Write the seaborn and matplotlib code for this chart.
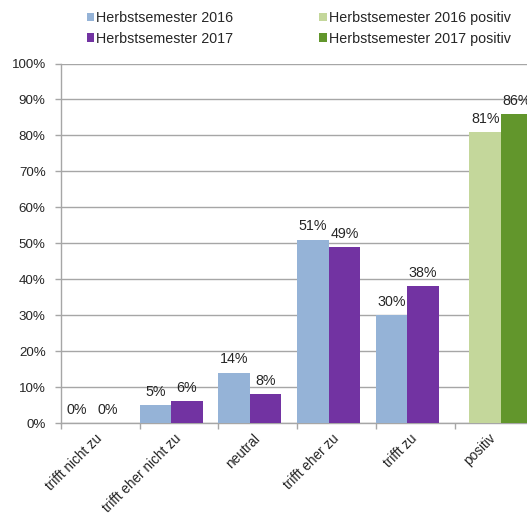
import numpy as np
import pandas as pd
import matplotlib
matplotlib.use("Agg")
import matplotlib.pyplot as plt
from matplotlib.patches import Patch
from matplotlib.ticker import FuncFormatter
import seaborn as sns

# Survey answer categories and shares (percent)
categories = ["trifft nicht zu", "trifft eher nicht zu", "neutral",
              "trifft eher zu", "trifft zu", "positiv"]
answer_categories = categories[:5]
hs2016 = [0, 5, 14, 51, 30]
hs2017 = [0, 6, 8, 49, 38]
hs2016_positiv = [81]
hs2017_positiv = [86]

series = ["Herbstsemester 2016", "Herbstsemester 2017",
          "Herbstsemester 2016 positiv", "Herbstsemester 2017 positiv"]
colors = ["#95B3D7", "#7233A2", "#C4D79B", "#62962C"]
y_ticks = list(range(0, 101, 10))

answers = pd.DataFrame({
    "Kategorie": answer_categories * 2,
    "Anteil": hs2016 + hs2017,
    "Semester": [series[0]] * len(hs2016) + [series[1]] * len(hs2017),
})
positive = pd.DataFrame({
    "Kategorie": ["positiv", "positiv"],
    "Anteil": hs2016_positiv + hs2017_positiv,
    "Semester": series[2:],
})

sns.set_theme(style="white")
plt.rcParams["font.family"] = ["Liberation Sans", "DejaVu Sans"]
TEXT = "#262626"
GRID = "#a6a6a6"

W, H = 527, 518
fig = plt.figure(figsize=(W / 100, H / 100), dpi=100)
cat_px = 78.7
x0, y0, y100 = 61, 423, 63.5
ax = fig.add_axes([x0 / W, (H - y0) / H, 6 * cat_px / W, (y0 - y100) / H])

bar_kw = dict(width=0.8, saturation=1, legend=False, ax=ax, zorder=3,
              linewidth=0, edgecolor="none")
sns.barplot(data=answers, x="Kategorie", y="Anteil", hue="Semester",
            order=categories, hue_order=series[:2], palette=colors[:2],
            **bar_kw)
sns.barplot(data=positive, x="Kategorie", y="Anteil", hue="Semester",
            order=categories, hue_order=series[2:], palette=colors[2:],
            **bar_kw)

# the "positiv" group sits a little further right inside its slot
POS_SHIFT = 0.19
for cont in ax.containers[2:]:
    for p in cont:
        p.set_x(p.get_x() + POS_SHIFT)

for cont in ax.containers:
    vals = [p.get_height() for p in cont]
    ax.bar_label(cont, labels=[f"{v:.0f}%" for v in vals], padding=4.5,
                 fontsize=10.3, color=TEXT)

ax.set_xlim(-0.4, 5.6)
ax.set_ylim(0, 100)
ax.set_yticks(y_ticks)
ax.yaxis.set_major_formatter(FuncFormatter(lambda v, _: f"{v:.0f}%"))
ax.grid(axis="y", color=GRID, linewidth=1, zorder=0)
ax.set_axisbelow(True)

# category boundaries as major ticks, names at the centres
bounds = np.arange(len(categories) + 1) - 0.4
centres = np.arange(len(categories)) + 0.1
ax.set_xticks(bounds)
ax.set_xticklabels([])
ax.set_xticks(centres, minor=True)
ax.set_xticklabels(categories, minor=True, rotation=45, ha="right",
                   va="center", rotation_mode="anchor", fontsize=9.8,
                   color=TEXT)
ax.tick_params(axis="x", which="major", length=4, width=1, color=GRID,
               direction="out", bottom=True)
ax.tick_params(axis="x", which="minor", length=0, pad=9.5)
ax.tick_params(axis="y", length=4, width=1, color=GRID, direction="out",
               left=True, labelsize=9.6, labelcolor=TEXT, pad=7)
ax.set_xlabel("")
ax.set_ylabel("")

for side in ("top", "right"):
    ax.spines[side].set_visible(False)
for side in ("left", "bottom"):
    ax.spines[side].set_color(GRID)
    ax.spines[side].set_linewidth(1)

handles = [Patch(facecolor=c, edgecolor="none") for c in colors]
fig.legend(handles, series, ncol=2, loc="upper left",
           bbox_to_anchor=(80 / W, 1 - 4 / H), frameon=False,
           fontsize=10.3, handlelength=0.5, handleheight=0.5,
           handletextpad=0.15, columnspacing=6.0, labelspacing=0.45,
           borderpad=0, labelcolor=TEXT)

fig.savefig("out.png", dpi=100, facecolor="white")
